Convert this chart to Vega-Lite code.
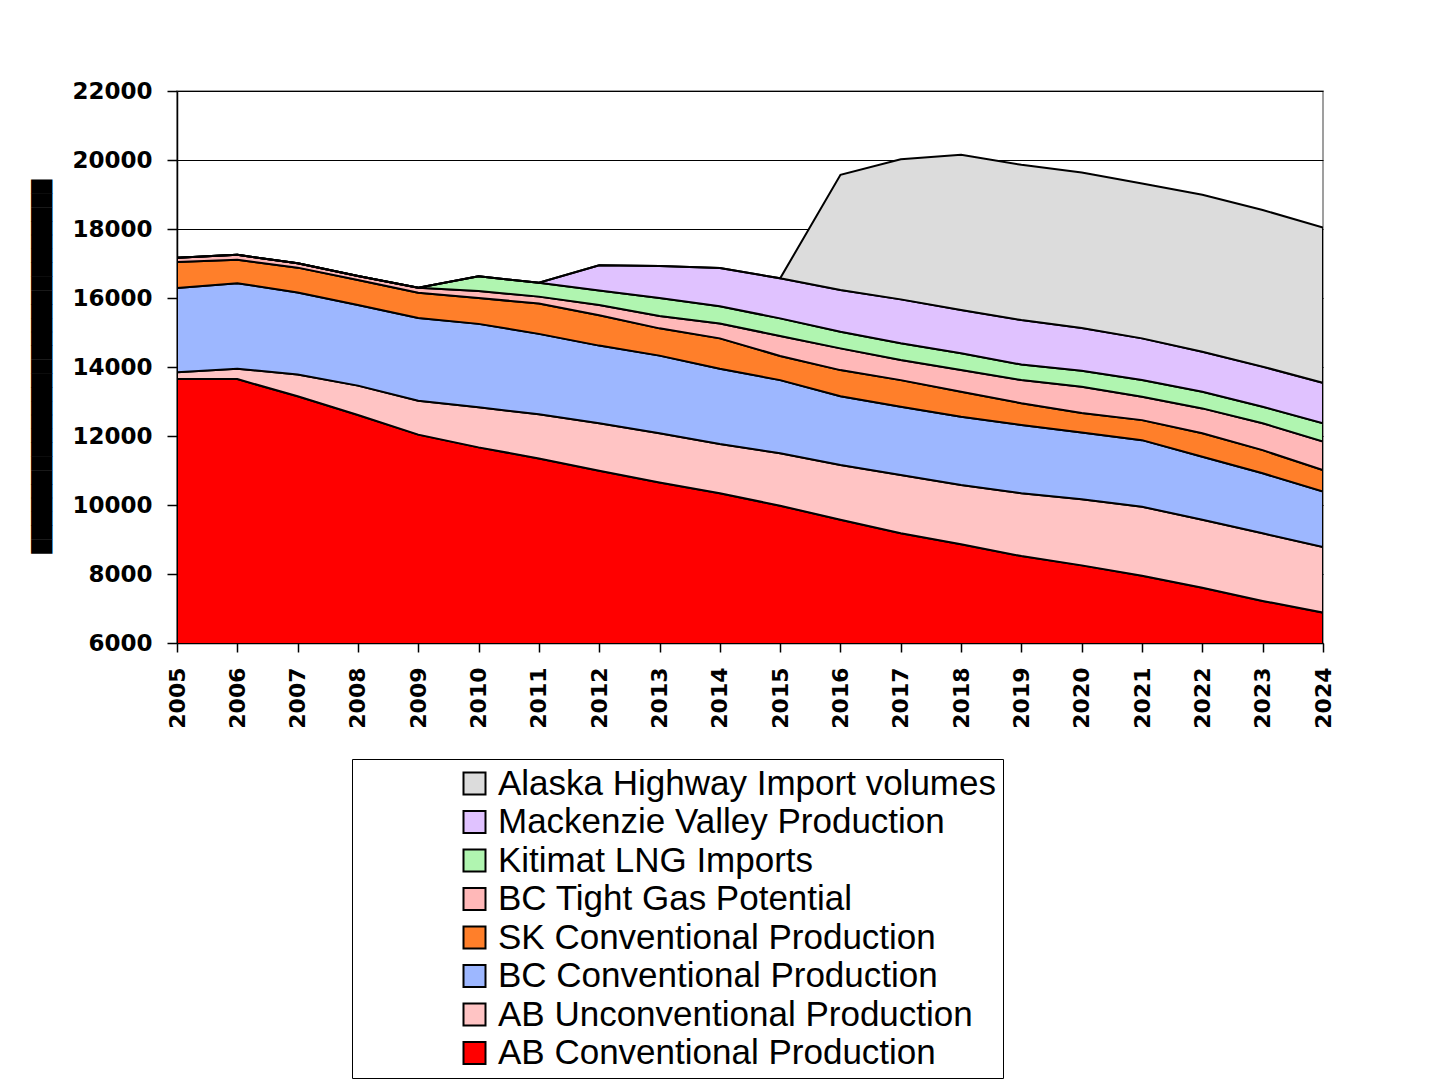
{
  "$schema": "https://vega.github.io/schema/vega-lite/v6.json",
  "width": 1146,
  "height": 552,
  "autosize": {"type": "none"},
  "padding": {"left": 177, "top": 91, "right": 120, "bottom": 438},
  "background": "white",
  "config": {"view": {"stroke": "#808080", "strokeWidth": 1.5}, "font": "Liberation Sans"},
  "datasets": {
    "production": [
      {"year": 2005, "ab_conv": 13650, "ab_unconv": 200, "bc_conv": 2440, "sk_conv": 750, "bc_tight": 130, "kitimat": 0, "mackenzie": 0, "alaska": 0},
      {"year": 2006, "ab_conv": 13650, "ab_unconv": 300, "bc_conv": 2480, "sk_conv": 680, "bc_tight": 140, "kitimat": 0, "mackenzie": 0, "alaska": 0},
      {"year": 2007, "ab_conv": 13150, "ab_unconv": 630, "bc_conv": 2380, "sk_conv": 720, "bc_tight": 130, "kitimat": 0, "mackenzie": 0, "alaska": 0},
      {"year": 2008, "ab_conv": 12610, "ab_unconv": 850, "bc_conv": 2340, "sk_conv": 720, "bc_tight": 120, "kitimat": 0, "mackenzie": 0, "alaska": 0},
      {"year": 2009, "ab_conv": 12040, "ab_unconv": 980, "bc_conv": 2400, "sk_conv": 730, "bc_tight": 150, "kitimat": 0, "mackenzie": 0, "alaska": 0},
      {"year": 2010, "ab_conv": 11670, "ab_unconv": 1160, "bc_conv": 2420, "sk_conv": 750, "bc_tight": 200, "kitimat": 430, "mackenzie": 0, "alaska": 0},
      {"year": 2011, "ab_conv": 11350, "ab_unconv": 1280, "bc_conv": 2330, "sk_conv": 880, "bc_tight": 200, "kitimat": 400, "mackenzie": 0, "alaska": 0},
      {"year": 2012, "ab_conv": 10990, "ab_unconv": 1380, "bc_conv": 2250, "sk_conv": 880, "bc_tight": 300, "kitimat": 420, "mackenzie": 730, "alaska": 0},
      {"year": 2013, "ab_conv": 10650, "ab_unconv": 1430, "bc_conv": 2250, "sk_conv": 790, "bc_tight": 360, "kitimat": 520, "mackenzie": 930, "alaska": 0},
      {"year": 2014, "ab_conv": 10340, "ab_unconv": 1430, "bc_conv": 2180, "sk_conv": 880, "bc_tight": 430, "kitimat": 500, "mackenzie": 1110, "alaska": 0},
      {"year": 2015, "ab_conv": 9980, "ab_unconv": 1520, "bc_conv": 2120, "sk_conv": 700, "bc_tight": 580, "kitimat": 510, "mackenzie": 1160, "alaska": 0},
      {"year": 2016, "ab_conv": 9570, "ab_unconv": 1590, "bc_conv": 1990, "sk_conv": 760, "bc_tight": 630, "kitimat": 480, "mackenzie": 1210, "alaska": 3340},
      {"year": 2017, "ab_conv": 9180, "ab_unconv": 1690, "bc_conv": 1980, "sk_conv": 770, "bc_tight": 580, "kitimat": 490, "mackenzie": 1270, "alaska": 4060},
      {"year": 2018, "ab_conv": 8860, "ab_unconv": 1720, "bc_conv": 1980, "sk_conv": 720, "bc_tight": 630, "kitimat": 490, "mackenzie": 1250, "alaska": 4500},
      {"year": 2019, "ab_conv": 8520, "ab_unconv": 1820, "bc_conv": 1980, "sk_conv": 630, "bc_tight": 670, "kitimat": 450, "mackenzie": 1290, "alaska": 4500},
      {"year": 2020, "ab_conv": 8250, "ab_unconv": 1920, "bc_conv": 1930, "sk_conv": 570, "bc_tight": 760, "kitimat": 460, "mackenzie": 1240, "alaska": 4510},
      {"year": 2021, "ab_conv": 7950, "ab_unconv": 2000, "bc_conv": 1930, "sk_conv": 580, "bc_tight": 680, "kitimat": 480, "mackenzie": 1210, "alaska": 4490},
      {"year": 2022, "ab_conv": 7600, "ab_unconv": 1970, "bc_conv": 1830, "sk_conv": 680, "bc_tight": 720, "kitimat": 480, "mackenzie": 1160, "alaska": 4550},
      {"year": 2023, "ab_conv": 7220, "ab_unconv": 1960, "bc_conv": 1740, "sk_conv": 670, "bc_tight": 780, "kitimat": 480, "mackenzie": 1160, "alaska": 4540},
      {"year": 2024, "ab_conv": 6880, "ab_unconv": 1900, "bc_conv": 1610, "sk_conv": 620, "bc_tight": 830, "kitimat": 530, "mackenzie": 1170, "alaska": 4500}
    ],
    "series": [
      {"key": "ab_conv", "name": "AB Conventional Production", "rank": 1},
      {"key": "ab_unconv", "name": "AB Unconventional Production", "rank": 2},
      {"key": "bc_conv", "name": "BC Conventional Production", "rank": 3},
      {"key": "sk_conv", "name": "SK Conventional Production", "rank": 4},
      {"key": "bc_tight", "name": "BC Tight Gas Potential", "rank": 5},
      {"key": "kitimat", "name": "Kitimat LNG Imports", "rank": 6},
      {"key": "mackenzie", "name": "Mackenzie Valley Production", "rank": 7},
      {"key": "alaska", "name": "Alaska Highway Import volumes", "rank": 8}
    ]
  },
  "data": {"name": "production"},
  "transform": [
    {"fold": ["ab_conv", "ab_unconv", "bc_conv", "sk_conv", "bc_tight", "kitimat", "mackenzie", "alaska"], "as": ["key", "value"]},
    {"lookup": "key", "from": {"data": {"name": "series"}, "key": "key", "fields": ["name", "rank"]}}
  ],
  "mark": {"type": "area", "stroke": "black", "strokeWidth": 2, "clip": true, "opacity": 1, "fillOpacity": 1, "interpolate": "linear"},
  "encoding": {
    "x": {
      "field": "year", "type": "ordinal",
      "scale": {"type": "point", "padding": 0},
      "axis": {"title": null, "labelAngle": 270, "labelFont": "DejaVu Sans", "labelFontWeight": "bold", "labelFontSize": 22, "labelColor": "black", "tickColor": "black", "tickSize": 9, "tickWidth": 1.5, "domainColor": "black", "domainWidth": 1.5, "labelPadding": 15, "grid": false}
    },
    "y": {
      "field": "value", "type": "quantitative", "stack": "zero",
      "scale": {"domain": [6000, 22000], "nice": false, "zero": false},
      "axis": {
        "values": [6000, 8000, 10000, 12000, 14000, 16000, 18000, 20000, 22000],
        "format": "d",
        "labelFont": "DejaVu Sans", "labelFontWeight": "bold", "labelFontSize": 23, "labelColor": "black",
        "tickColor": "black", "tickSize": 10, "tickWidth": 1.5, "labelPadding": 15,
        "domainColor": "black", "domainWidth": 1.5,
        "grid": true, "gridColor": "black", "gridWidth": 1,
        "title": "███████████████████████████",
        "titleFont": "DejaVu Sans", "titleFontSize": 18, "titleFontWeight": "normal", "titleColor": "black",
        "titleAngle": 270, "titleX": -135, "titleY": 275, "titleAlign": "center", "titleBaseline": "middle"
      }
    },
    "color": {
      "field": "name", "type": "nominal",
      "scale": {
        "domain": ["Alaska Highway Import volumes", "Mackenzie Valley Production", "Kitimat LNG Imports", "BC Tight Gas Potential", "SK Conventional Production", "BC Conventional Production", "AB Unconventional Production", "AB Conventional Production"],
        "range": ["#dcdcdc", "#e0c2ff", "#b0f5b0", "#ffb8b8", "#ff7f2a", "#9db7ff", "#ffc4c4", "#ff0000"]
      },
      "legend": {
        "orient": "none", "legendX": 175, "legendY": 668, "title": null,
        "symbolType": "square", "symbolSize": 484, "symbolStrokeColor": "black", "symbolStrokeWidth": 2, "symbolOpacity": 1,
        "labelFont": "Liberation Sans", "labelFontSize": 35, "labelColor": "black", "labelLimit": 900,
        "strokeColor": "black", "fillColor": "white", "padding": 7, "rowPadding": 2.5,
        "symbolOffset": 98, "labelOffset": 6
      }
    },
    "order": {"field": "rank", "type": "quantitative", "sort": "ascending"}
  }
}
